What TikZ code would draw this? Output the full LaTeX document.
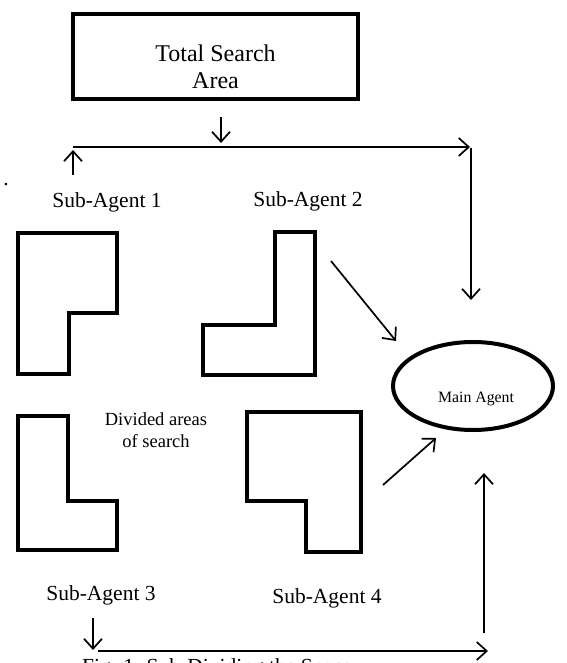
\documentclass[tikz,border=0pt]{standalone}
\usepackage{fontspec}
\setmainfont{Liberation Serif}
\usetikzlibrary{arrows.meta,shapes.geometric}
\begin{document}
\begin{tikzpicture}
  [x=1pt,y=-1pt,
   inner sep=0pt,
   heading/.style={font=\fontsize{24}{28}\selectfont,align=center},
   agentname/.style={font=\fontsize{21.5}{25}\selectfont,anchor=base},
   note/.style={font=\fontsize{18.5}{22}\selectfont,anchor=base},
   area/.style={line width=4pt,line join=miter},
   link/.style={line width=1.7pt,-{Straight Barb[length=10pt,width=18pt,line width=1.7pt]}}]
  \useasboundingbox (0,0) rectangle (566,663);
  \clip (0,0) rectangle (566,663);
  \node at (215.5,56.5) (total) [draw,line width=4pt,minimum width=285pt,minimum height=85pt] {};
  \node at (215.5,62) (totaltext) [heading,anchor=base] {Total Search};
  \node at (215.5,89) (areatext) [heading,anchor=base] {Area};
  \node at (476,402) (main) [font=\fontsize{15.8}{18}\selectfont,anchor=base] {Main Agent};
  \node at (473,386) (mainring) [ellipse,draw,line width=4pt,minimum width=160pt,minimum height=88pt] {};
  \node at (6,185) (dot) [agentname] {.};
  \node at (107,207) (sa1) [agentname] {Sub-Agent 1};
  \node at (308,206) (sa2) [agentname] {Sub-Agent 2};
  \node at (101,600) (sa3) [agentname] {Sub-Agent 3};
  \node at (327,603) (sa4) [agentname] {Sub-Agent 4};
  \node at (156,425) (div1) [note] {Divided areas};
  \node at (156,447) (div2) [note] {of search};
  \node at (82,673) (caption) [agentname,anchor=base west] {Fig. 1. Sub-Dividing the Space};
  % divided areas
  \draw [area] (18,231) -- (18,374) -- (69,374) -- (69,313) -- (117,313) -- (117,233) -- (16,233);
  \draw [area] (275,232) -- (315,232) -- (315,375) -- (203,375) -- (203,325) -- (275,325) -- cycle;
  \draw [area] (18,416) -- (68,416) -- (68,501) -- (117,501) -- (117,550) -- (18,550) -- cycle;
  \draw [area] (247,412) -- (361,412) -- (361,552) -- (306,552) -- (306,501) -- (247,501) -- cycle;
  % connectors
  \coordinate (down0) at (221,117);
  \coordinate (down1) at (221,143);
  \coordinate (top0) at (73,147);
  \coordinate (top1) at (470,147);
  \coordinate (up0) at (73,175);
  \coordinate (up1) at (73,150);
  \coordinate (right0) at (471,148);
  \coordinate (right1) at (471,300);
  \coordinate (diag0) at (331,261);
  \coordinate (diag1) at (396,341);
  \coordinate (diag2) at (383,485);
  \coordinate (diag3) at (436,438);
  \coordinate (rise0) at (484,633);
  \coordinate (rise1) at (484,473);
  \coordinate (drop0) at (93,618);
  \coordinate (drop1) at (93,650);
  \coordinate (bot0) at (98,651);
  \coordinate (bot1) at (488,651);
  \draw [link] (down0) to (down1);
  \draw [link] (top0) to (top1);
  \draw [link] (up0) to (up1);
  \draw [link] (right0) to (right1);
  \draw [link] (diag0) to (diag1);
  \draw [link] (diag2) to (diag3);
  \draw [link] (rise0) to (rise1);
  \draw [link] (drop0) to (drop1);
  \draw [link] (bot0) to (bot1);
\end{tikzpicture}
\end{document}
